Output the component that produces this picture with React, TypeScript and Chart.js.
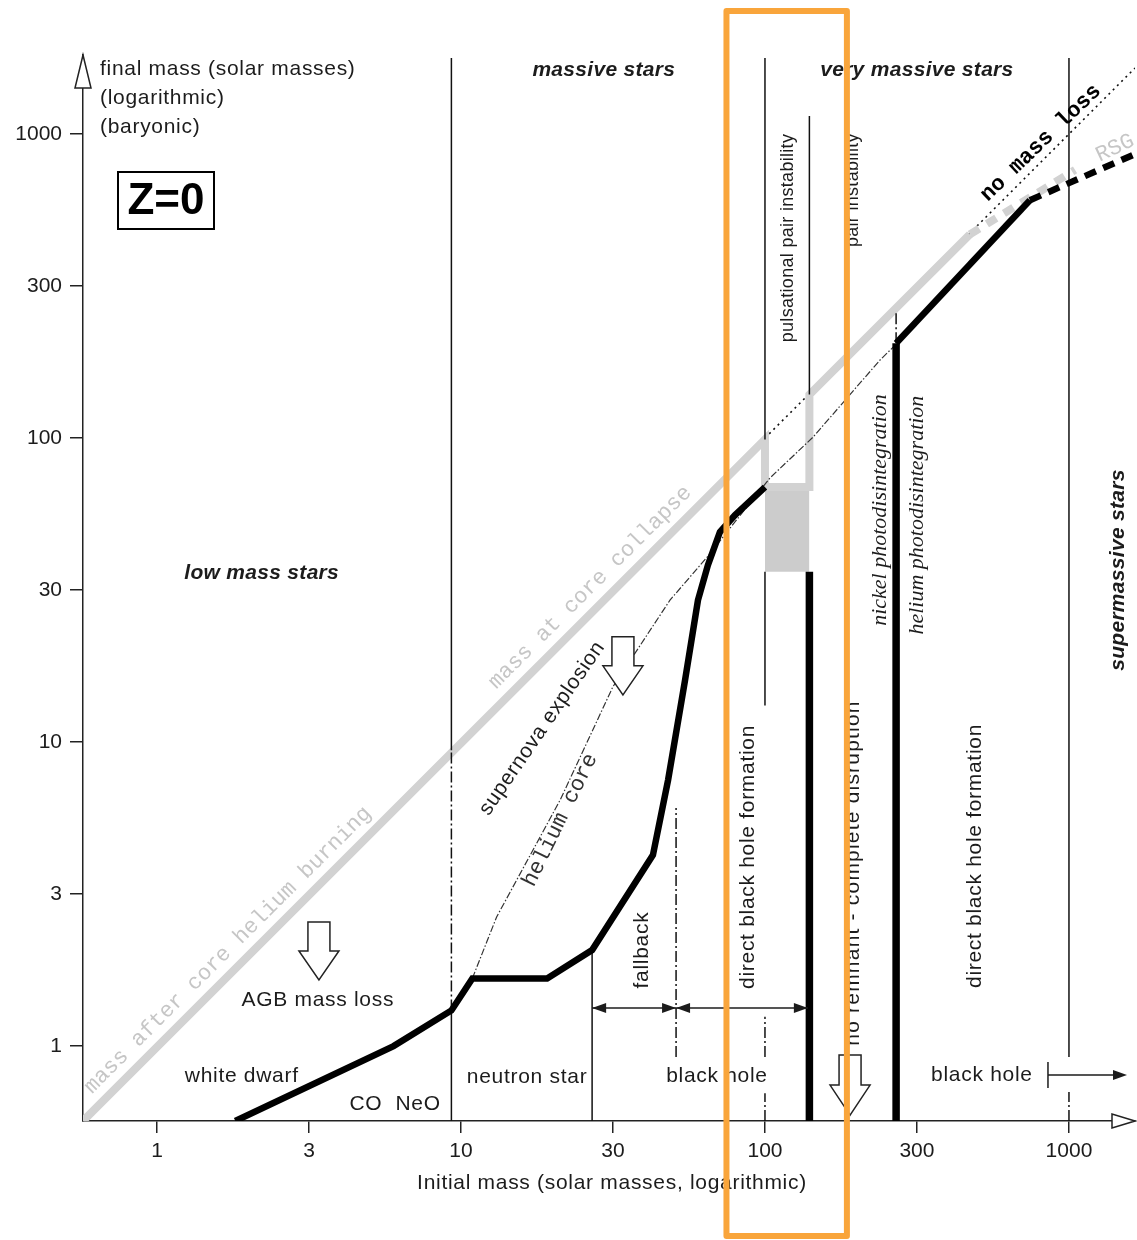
import React, { useEffect, useRef } from "react";
import { Chart, registerables } from "chart.js";

Chart.register(...registerables);

const SANS = '"Liberation Sans", Arial, Helvetica, sans-serif';
const MONO = '"Liberation Mono", "Courier New", monospace';
const SERIF = '"Liberation Serif", "Times New Roman", serif';
const INK = "#1c1c1c";
const GREY = "#d2d2d2";
const GREY_TEXT = "#c6c6c6";

// ---------- axes (solar masses, both logarithmic) ----------
const xRange = [0.571, 1649];
const yRange = [0.567, 1820];
const tickValues = [1, 3.162, 10, 31.62, 100, 316.2, 1000];
const tickLabels = ["1", "3", "10", "30", "100", "300", "1000"];

// ---------- final (remnant) mass vs initial mass : thick black ----------
const remnantInitial = [1.81, 6.0, 9.3, 10.9, 19.2, 27, 42.8, 48.0, 54.6, 60.2, 64.9, 71.1, 79.7, 100];
const remnantFinal = [0.567, 1.0, 1.31, 1.67, 1.67, 2.07, 4.25, 7.5, 16.0, 29.3, 38.2, 49.1, 55.8, 69.0];
// direct black hole branch of very massive stars
const bhInitial = [270, 744];
const bhFinal = [205, 606];
const bhDashedInitial = [744, 1649];
const bhDashedFinal = [606, 859];

// ---------- mass at core collapse (grey) ----------
const collapseInitial = [0.571, 100, 100, 140, 140, 472];
const collapseFinal = [0.567, 99, 69, 69, 139, 468];
// red supergiant branch (grey dashed)
const rsgInitial = [472, 1047];
const rsgFinal = [468, 762];
// no mass loss (final = initial), dotted
const noLossInitial = [100, 1649];
const noLossFinal = [100, 1649];
// helium core mass, dash-dot
const heliumInitial = [10.9, 13.1, 21.2, 31.6, 48.7, 64.5, 103.8, 143.9, 239, 272];
const heliumFinal = [1.67, 2.66, 6.45, 15.2, 29.3, 40.6, 73.9, 100.7, 180.6, 205];
// pulsational pair instability band (grey box)
const ppiInitial = [100, 140];
const ppiUpper = [69, 69];
const ppiLower = 36.3;

// ---------- region boundaries (vertical lines) ----------
const boundaryMass = [9.3, 9.3, 9.3, 27, 51, 100, 100, 100, 100, 140, 140, 270, 270, 1000, 1000];
const boundaryLow = [0.567, 1.31, 9.4, 0.567, 0.92, 99, 13.2, 0.92, 0.567, 0.567, 139, 0.567, 205, 0.92, 0.567];
const boundaryHigh = [1.31, 9.4, 1778, 2.07, 6.07, 1778, 36.3, 1.25, 0.70, 36.3, 1146, 205, 262, 1778, 0.706];
const boundaryKind = ["solid", "dashdot", "solid", "solid", "dashdot", "solid", "solid", "dashdot", "dashdot", "thick", "solid", "thick", "dashdot", "solid", "dashdot"];

// ---------- annotation anchors (initial mass, final mass) ----------
const downArrowMass = [3.41, 34.1, 190.5];
const downArrowTop = [2.56, 22.2, 0.934];
const downArrowTip = [1.65, 14.3, 0.593];
const rangeArrowFrom = [27, 51];
const rangeArrowTo = [51, 138.4];
const rangeArrowLevel = 1.334;
const bhArrowFrom = 853;
const bhArrowTo = 1552;
const bhArrowLevel = 0.803;
const highlightRange = [74.7, 186];

type Label = { t: string; x: number; y: number; rot: number; font: string; color: string; ls: number };
const LBL = (t: string, x: number, y: number, rot: number, font: string, color = INK, ls = 0.7): Label => ({ t, x, y, rot, font, color, ls });
const BI = `italic bold 21px ${SANS}`;
const N21 = `21px ${SANS}`;
const N18 = `18px ${SANS}`;
const LABELS: Label[] = [
  LBL("massive stars", 29.5, 1624, 0, BI, INK, 0.3),
  LBL("very massive stars", 316, 1624, 0, BI, INK, 0.3),
  LBL("low mass stars", 2.21, 36.0, 0, BI, INK, 0.3),
  LBL("supermassive stars", 1449, 36.8, -90, BI, INK, 0.3),
  LBL("pulsational pair instability", 119, 455, -90, N18, INK, 0.3),
  LBL("pair instability", 195, 654, -90, N18, INK, 0.3),
  LBL("no remnant - complete disruption", 195, 3.71, -90, N21, INK, 1.2),
  LBL("nickel photodisintegration", 239, 58.0, -90, `italic 22px ${SERIF}`, INK, 0),
  LBL("helium photodisintegration", 318, 55.8, -90, `italic 22px ${SERIF}`, INK, 0),
  LBL("direct black hole formation", 87.9, 4.19, -90, N21),
  LBL("direct black hole formation", 491, 4.22, -90, N21),
  LBL("fallback", 39.4, 2.07, -90, N21),
  LBL("supernova explosion", 18.5, 11.1, -55.5, N21),
  LBL("helium core", 21.2, 5.54, -64, `22px ${MONO}`, "#333", 0),
  LBL("mass at core collapse", 26.6, 32.3, -45, `22px ${MONO}`, GREY_TEXT, 0),
  LBL("mass after core helium burning", 1.71, 2.07, -45, `22px ${MONO}`, GREY_TEXT, 0),
  LBL("no mass loss", 809, 934, -44, `bold 22px ${MONO}`, "#000", 0),
  LBL("RSG", 1417, 899, -25, `22px ${MONO}`, GREY_TEXT, 0),
  LBL("AGB mass loss", 3.38, 1.42, 0, N21),
  LBL("white dwarf", 1.9, 0.797, 0, N21),
  LBL("CO  NeO", 6.07, 0.645, 0, N21),
  LBL("neutron star", 16.5, 0.79, 0, N21),
  LBL("black hole", 69.5, 0.797, 0, N21),
  LBL("black hole", 517, 0.803, 0, N21),
];

function series(xs: number[], ys: number[], style: any) {
  return {
    data: xs.map((x, i) => ({ x, y: ys[i] })),
    showLine: true,
    pointRadius: 0,
    pointHoverRadius: 0,
    borderJoinStyle: "miter",
    borderCapStyle: "butt",
    fill: false,
    tension: 0,
    ...style,
  };
}

function text(ctx: any, L: Label, x: number, y: number) {
  ctx.save();
  ctx.translate(x, y);
  ctx.rotate((L.rot * Math.PI) / 180);
  ctx.font = L.font;
  ctx.fillStyle = L.color;
  ctx.textAlign = "center";
  ctx.textBaseline = "middle";
  ctx.letterSpacing = `${L.ls}px`;
  ctx.fillText(L.t, 0, 0);
  ctx.restore();
}

function blockArrow(ctx: any, cx: number, top: number, tip: number) {
  const sw = 11, hw = 20, hl = (tip - top) * 0.5;
  ctx.beginPath();
  ctx.moveTo(cx - sw, top);
  ctx.lineTo(cx + sw, top);
  ctx.lineTo(cx + sw, tip - hl);
  ctx.lineTo(cx + hw, tip - hl);
  ctx.lineTo(cx, tip);
  ctx.lineTo(cx - hw, tip - hl);
  ctx.lineTo(cx - sw, tip - hl);
  ctx.closePath();
  ctx.fillStyle = "#fff";
  ctx.fill();
  ctx.strokeStyle = "#222";
  ctx.lineWidth = 1.5;
  ctx.stroke();
}

function head(ctx: any, x: number, y: number, dir: number) {
  ctx.beginPath();
  ctx.moveTo(x, y);
  ctx.lineTo(x - dir * 14, y - 5);
  ctx.lineTo(x - dir * 14, y + 5);
  ctx.closePath();
  ctx.fill();
}

const annotate = {
  id: "annotate",
  afterDatasetsDraw(chart: any) {
    const { ctx, chartArea: ca, scales } = chart;
    const px = (v: number) => scales.x.getPixelForValue(v);
    const py = (v: number) => scales.y.getPixelForValue(v);
    ctx.save();
    // y axis title
    ctx.font = N21;
    ctx.fillStyle = INK;
    ctx.textAlign = "left";
    ctx.textBaseline = "middle";
    ctx.letterSpacing = "0.7px";
    ctx.fillText("final mass (solar masses)", ca.left + 17, ca.top + 14);
    ctx.fillText("(logarithmic)", ca.left + 17, ca.top + 43);
    ctx.fillText("(baryonic)", ca.left + 17, ca.top + 72);
    // x axis title
    ctx.textAlign = "center";
    ctx.fillText("Initial mass (solar masses, logarithmic)", (ca.left + ca.right) / 2 + 3, ca.bottom + 62);
    ctx.letterSpacing = "0px";
    // Z=0 box
    ctx.strokeStyle = "#000";
    ctx.lineWidth = 2;
    ctx.strokeRect(ca.left + 35, ca.top + 117, 96, 57);
    ctx.font = `bold 44px ${SANS}`;
    ctx.fillStyle = "#000";
    ctx.fillText("Z=0", ca.left + 83, ca.top + 147);

    for (const L of LABELS) text(ctx, L, px(L.x), py(L.y));

    // open block arrows
    downArrowMass.forEach((m, i) => blockArrow(ctx, px(m), py(downArrowTop[i]), py(downArrowTip[i])));

    // range arrows (fallback / direct black hole)
    ctx.strokeStyle = INK;
    ctx.fillStyle = INK;
    ctx.lineWidth = 1.5;
    const ry = py(rangeArrowLevel);
    rangeArrowFrom.forEach((a, i) => {
      const x0 = px(a), x1 = px(rangeArrowTo[i]);
      ctx.beginPath();
      ctx.moveTo(x0, ry);
      ctx.lineTo(x1, ry);
      ctx.stroke();
      head(ctx, x0, ry, -1);
      head(ctx, x1, ry, 1);
    });
    // black hole |-> arrow
    const by = py(bhArrowLevel);
    const bx0 = px(bhArrowFrom), bx1 = px(bhArrowTo);
    ctx.beginPath();
    ctx.moveTo(bx0, by - 13);
    ctx.lineTo(bx0, by + 13);
    ctx.moveTo(bx0, by);
    ctx.lineTo(bx1 - 4, by);
    ctx.stroke();
    head(ctx, bx1, by, 1);
    ctx.restore();
  },
  afterDraw(chart: any) {
    const { ctx, chartArea: ca, scales, width, height } = chart;
    ctx.save();
    ctx.strokeStyle = "#222";
    ctx.fillStyle = "#fff";
    ctx.lineWidth = 1.5;
    // y axis arrow head
    ctx.beginPath();
    ctx.moveTo(ca.left, ca.top);
    ctx.lineTo(ca.left + 8, ca.top + 33);
    ctx.lineTo(ca.left - 8, ca.top + 33);
    ctx.closePath();
    ctx.fill();
    ctx.stroke();
    // x axis arrow head
    ctx.beginPath();
    ctx.moveTo(ca.right, ca.bottom);
    ctx.lineTo(ca.right - 23, ca.bottom - 7);
    ctx.lineTo(ca.right - 23, ca.bottom + 7);
    ctx.closePath();
    ctx.fill();
    ctx.stroke();
    // orange highlight
    const x0 = scales.x.getPixelForValue(highlightRange[0]);
    const x1 = scales.x.getPixelForValue(highlightRange[1]);
    ctx.strokeStyle = "#f9a53b";
    ctx.lineWidth = 6;
    ctx.lineJoin = "round";
    ctx.strokeRect(x0, 11, x1 - x0, height - 11 - 4);
    ctx.restore();
  },
};

export default function App() {
  const ref = useRef<HTMLCanvasElement>(null);
  useEffect(() => {
    const solid = { borderColor: "#111", borderWidth: 1.5, order: 6 };
    const boundaries = boundaryMass.map((m, i) => {
      const k = boundaryKind[i];
      const style =
        k === "thick"
          ? { borderColor: "#000", borderWidth: 7.5, order: 2 }
          : k === "dashdot"
          ? { ...solid, borderDash: [11, 3, 2, 3] }
          : solid;
      return series([m, m], [boundaryLow[i], boundaryHigh[i]], style);
    });
    const datasets: any[] = [
      series(noLossInitial, noLossFinal, { borderColor: "#111", borderWidth: 1.6, borderDash: [2, 4], order: 12 }),
      series(ppiInitial, ppiUpper, { borderWidth: 0, borderColor: "rgba(0,0,0,0)", backgroundColor: "#cccccc", fill: { value: ppiLower }, order: 11 }),
      series(collapseInitial, collapseFinal, { borderColor: GREY, borderWidth: 8, order: 10 }),
      series(rsgInitial, rsgFinal, { borderColor: GREY, borderWidth: 8, borderDash: [11, 9], order: 10 }),
      series(heliumInitial, heliumFinal, { borderColor: "#333", borderWidth: 1.2, borderDash: [7, 2, 1.5, 2], order: 8 }),
      ...boundaries,
      series(remnantInitial, remnantFinal, { borderColor: "#000", borderWidth: 6.5, order: 1 }),
      series(bhInitial, bhFinal, { borderColor: "#000", borderWidth: 6.5, order: 1 }),
      series(bhDashedInitial, bhDashedFinal, { borderColor: "#000", borderWidth: 6.5, borderDash: [12, 8], order: 1 }),
    ];
    const tickFont = { family: SANS, size: 21 };
    const chart = new Chart(ref.current as HTMLCanvasElement, {
      type: "scatter",
      data: { datasets },
      options: {
        animation: false,
        responsive: false,
        devicePixelRatio: 1,
        layout: { padding: { top: 55, right: 2, left: 0, bottom: 0 } },
        plugins: { legend: { display: false }, tooltip: { enabled: false } },
        events: [],
        scales: {
          x: {
            type: "logarithmic",
            min: xRange[0],
            max: xRange[1],
            afterBuildTicks: (s: any) => {
              s.ticks = tickValues.map((v) => ({ value: v }));
            },
            afterFit: (s: any) => {
              s.height = 119;
            },
            ticks: {
              callback: (_v: any, i: number) => tickLabels[i],
              font: tickFont,
              color: INK,
              padding: 6,
              maxRotation: 0,
              autoSkip: false,
            },
            grid: { drawOnChartArea: false, drawTicks: true, tickLength: 12, color: "#222", lineWidth: 1.5 },
            border: { display: true, color: "#222", width: 1.5 },
          },
          y: {
            type: "logarithmic",
            min: yRange[0],
            max: yRange[1],
            afterBuildTicks: (s: any) => {
              s.ticks = tickValues.map((v) => ({ value: v }));
            },
            afterFit: (s: any) => {
              s.width = 83;
            },
            ticks: {
              callback: (_v: any, i: number) => tickLabels[i],
              font: tickFont,
              color: INK,
              padding: 8,
              autoSkip: false,
            },
            grid: { drawOnChartArea: false, drawTicks: true, tickLength: 13, color: "#222", lineWidth: 1.5 },
            border: { display: true, color: "#222", width: 1.5 },
          },
        },
      } as any,
      plugins: [annotate],
    });
    return () => chart.destroy();
  }, []);
  return (
    <div style={{ position: "absolute", left: 0, top: 0, width: 1137, height: 1240, background: "#fff" }}>
      <canvas ref={ref} width={1137} height={1240} style={{ display: "block", width: 1137, height: 1240 }} />
    </div>
  );
}
